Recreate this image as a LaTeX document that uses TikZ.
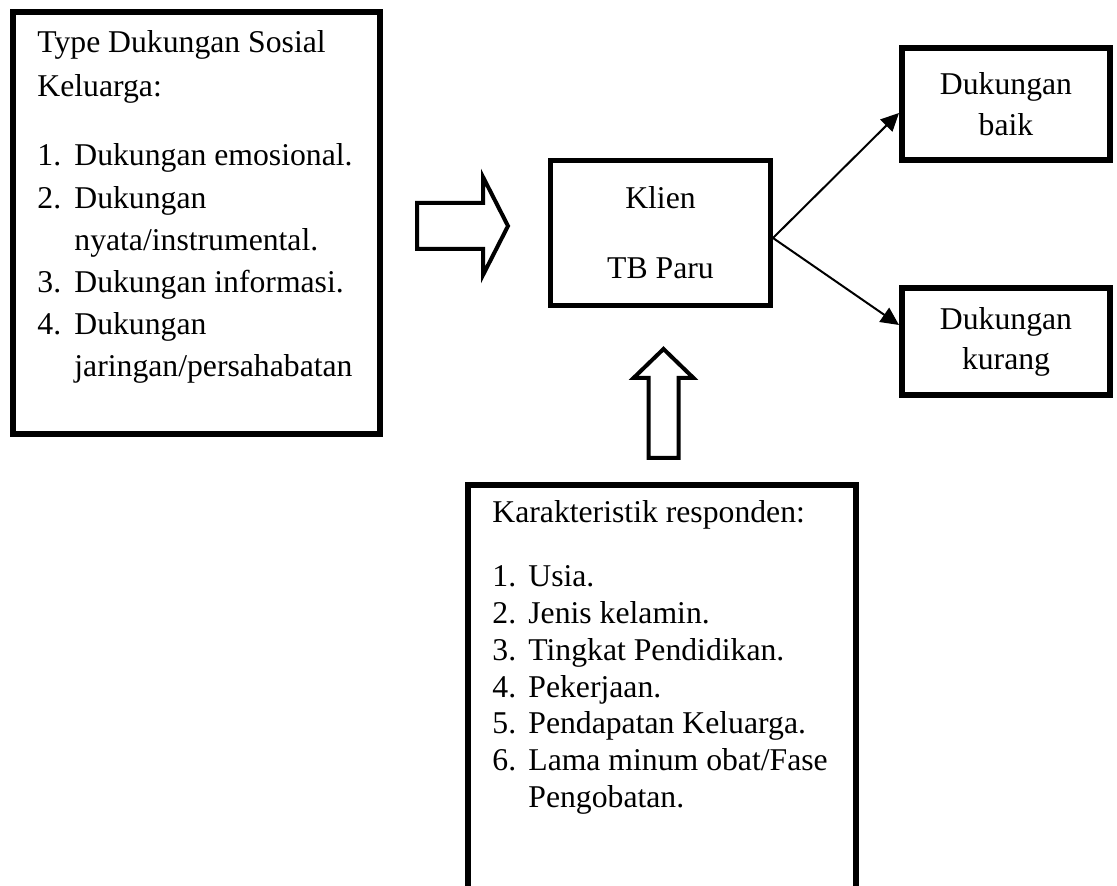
\documentclass[tikz,border=0pt]{standalone}
\usepackage{fontspec}
\setmainfont{Liberation Serif}
\usetikzlibrary{arrows.meta}

\begin{document}
\begin{tikzpicture}[x=0.5pt,y=-0.5pt,
  box/.style={draw=black,fill=white,inner sep=0pt,align=center,
    font=\fontsize{15.85}{20.5}\selectfont},
  isi/.style={inner sep=0pt,font=\fontsize{15.85}{21.1}\selectfont},
  panah/.style={line width=1pt,-{Triangle[length=9pt,width=8.5pt]}},
  blok/.style={draw=black,line width=2pt,fill=white,line join=miter}]
\clip (0,0) rectangle (1117,886);

% kotak-kotak
\node[box,line width=3pt,minimum width=183.5pt,minimum height=211pt] (tipe) at (196.5,223) {};
\node[box,line width=2.5pt,minimum width=110pt,minimum height=72.5pt] (klien) at (660.5,233) {Klien\\[14.5pt]TB Paru};
\node[box,line width=3pt,minimum width=104pt,minimum height=56pt] (baik) at (1006,104) {Dukungan\\baik};
\node[box,line width=3pt,minimum width=104pt,minimum height=53.5pt,
  font=\fontsize{15.85}{20}\selectfont] (kurang) at (1006,341.5) {Dukungan\\kurang};
\node[box,line width=2.75pt,minimum width=194pt,minimum height=215pt] (ciri) at (662,700) {};

% isi kotak
\node[isi,anchor=base west] (tipeisi) at (37,53) {%
  \begin{tabular}[t]{@{}p{18.5pt}@{}l@{}}
  \multicolumn{2}{@{}l@{}}{Type Dukungan Sosial}\\[0.9pt]
  \multicolumn{2}{@{}l@{}}{Keluarga:}\\[13.4pt]
  1. & Dukungan emosional.\\
  2. & Dukungan\\
     & nyata/instrumental.\\
  3. & Dukungan informasi.\\
  4. & Dukungan\\
     & jaringan/persahabatan
  \end{tabular}};
\node[isi,anchor=base west,font=\fontsize{15.85}{18.35}\selectfont] (ciriisi) at (492,523) {%
  \begin{tabular}[t]{@{}p{18pt}@{}l@{}}
  \multicolumn{2}{@{}l@{}}{Karakteristik responden:}\\[13.65pt]
  1. & Usia.\\
  2. & Jenis kelamin.\\
  3. & Tingkat Pendidikan.\\
  4. & Pekerjaan.\\
  5. & Pendapatan Keluarga.\\
  6. & Lama minum obat/Fase\\
     & Pengobatan.
  \end{tabular}};

% panah blok
\coordinate (kanan) at (417,225.5);
\coordinate (atas) at (663,458);
\draw[blok] (kanan) ++(0,-22.5) -- ++(66,0) -- ++(0,-26) -- ++(25,49)
  -- ++(-25,49) -- ++(0,-26) -- ++(-66,0) -- cycle;
\draw[blok] (atas) ++(-14.5,0) -- ++(0,-80) -- ++(-15,0) -- ++(30,-29)
  -- ++(30,29) -- ++(-15,0) -- ++(0,80) -- cycle;

% panah hasil
\draw[panah] ([yshift=-2.5pt]klien.east) -- ([yshift=-4.5pt]baik.west);
\draw[panah] ([yshift=-2.5pt]klien.east) -- ([yshift=8.25pt]kurang.west);

\end{tikzpicture}
\end{document}
